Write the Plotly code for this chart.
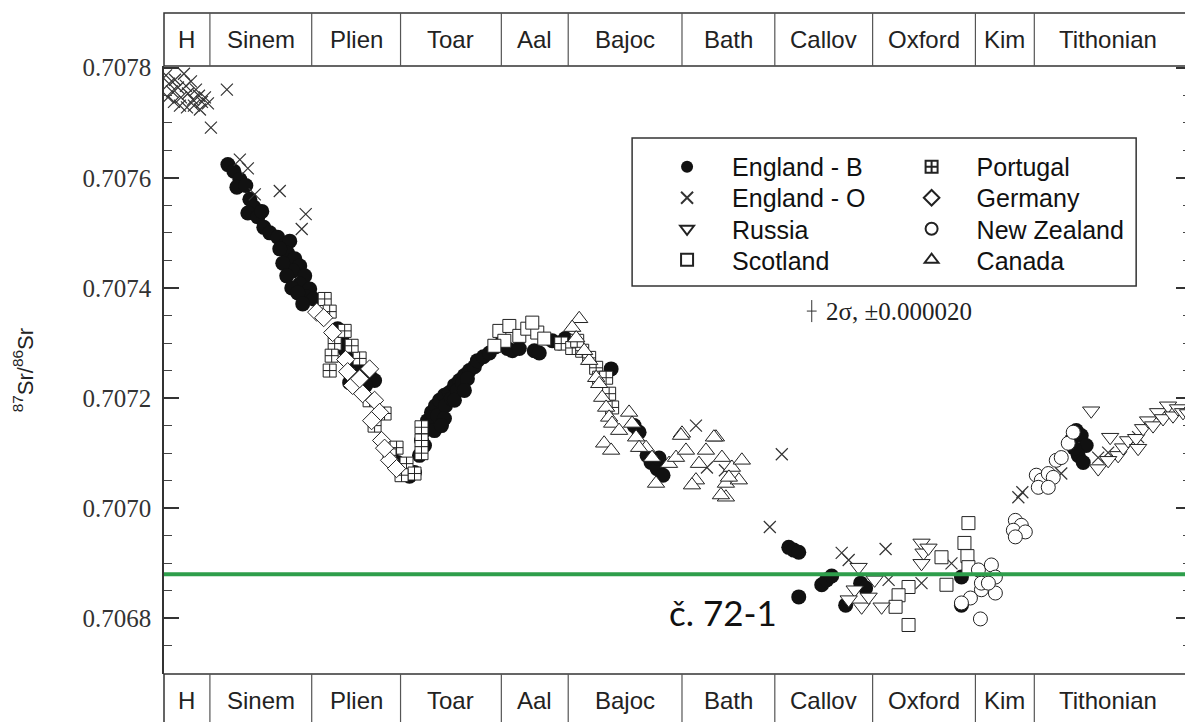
import plotly.graph_objects as go

SANS = "Liberation Sans, Arial, sans-serif"
SERIF = "Liberation Serif, Times New Roman, serif"

# ---- stage scale (pseudo-age, Ma; decreasing to the right) ----
stage_names = ["H", "Sinem", "Plien", "Toar", "Aal", "Bajoc", "Bath",
               "Callov", "Oxford", "Kim", "Tithonian"]
stage_bounds = [200.0, 197.7, 192.6, 188.15, 183.1, 179.75, 174.05,
                169.4, 164.5, 159.35, 156.4, 149.0]
x_range = [200.0, 148.55]
y_range = [0.706699, 0.707803]

# ---- data (age, 87Sr/86Sr) ----
engB_x = [196.80, 196.50, 196.20, 196.35, 195.90, 195.70, 195.50, 195.80, 195.30, 195.10,
          195.00, 194.70, 194.30, 193.95, 193.70, 193.80, 193.45, 193.20, 193.55, 192.95,
          193.20, 192.70, 192.90, 192.50, 191.30, 191.10, 190.90, 191.20, 190.45, 190.10,
          189.70, 190.30, 190.70, 189.45, 189.90,
          194.20, 194.05, 193.85, 193.60, 193.30, 193.05,
          188.55, 188.30, 188.00, 187.70, 187.45,
          187.20, 187.10, 186.95, 186.80, 186.60, 186.40, 186.20, 185.95, 185.70, 185.45,
          185.20, 184.95, 184.70, 184.45, 186.70, 186.30, 185.90, 185.60, 185.30, 185.05,
          184.80, 184.30, 184.00, 183.70, 183.40, 183.10, 182.80, 182.55, 182.20, 181.45,
          181.20, 180.55, 180.20, 179.90,
          186.95, 186.45, 185.95, 185.45, 184.95, 186.10,
          177.60, 176.45, 176.20, 175.80, 175.60, 175.30, 175.00, 175.20,
          168.70, 168.45, 168.20, 168.20, 167.05, 166.80, 166.55, 165.85, 165.10, 164.85,
          160.05, 160.05,
          154.55, 154.30, 154.05, 153.80, 154.20, 153.95, 154.40]
engB_y = [0.707624, 0.707612, 0.707597, 0.707583, 0.707586, 0.707561, 0.707547, 0.707536, 0.707529, 0.707539,
          0.707510, 0.707500, 0.707492, 0.707478, 0.707485, 0.707463, 0.707453, 0.707440, 0.707431, 0.707422,
          0.707407, 0.707398, 0.707384, 0.707380, 0.707326, 0.707308, 0.707286, 0.707295, 0.707268, 0.707253,
          0.707241, 0.707235, 0.707228, 0.707232, 0.707223,
          0.707471, 0.707445, 0.707422, 0.707400, 0.707391, 0.707371,
          0.707105, 0.707083, 0.707069, 0.707058, 0.707065,
          0.707096, 0.707123, 0.707141, 0.707159, 0.707174, 0.707186, 0.707196, 0.707205, 0.707210, 0.707223,
          0.707232, 0.707241, 0.707250, 0.707257, 0.707150, 0.707168, 0.707186, 0.707199, 0.707214, 0.707226,
          0.707235, 0.707268, 0.707275, 0.707282, 0.707293, 0.707300, 0.707290, 0.707286, 0.707290, 0.707286,
          0.707282, 0.707304, 0.707300, 0.707308,
          0.707114, 0.707141, 0.707163, 0.707196, 0.707214, 0.707150,
          0.707253, 0.707150, 0.707138, 0.707096, 0.707083, 0.707072, 0.707060, 0.707091,
          0.706929, 0.706924, 0.706920, 0.706839, 0.706861, 0.706870, 0.706877, 0.706824, 0.706864, 0.706855,
          0.706875, 0.706824,
          0.707123, 0.707141, 0.707132, 0.707114, 0.707096, 0.707083, 0.707109]

engO_x = [199.90, 199.75, 199.60, 199.45, 199.30, 199.15, 199.00, 198.90, 198.80, 198.65,
          198.55, 198.40, 198.25, 198.10, 197.95, 197.80, 199.80, 199.50, 199.20, 198.85,
          198.50, 198.20, 197.65, 196.85, 196.20, 195.80, 195.45, 194.20, 192.90, 193.10,
          173.35, 172.80, 171.90, 169.05, 169.65, 166.05, 165.70, 163.85, 163.70, 162.05,
          160.55, 157.20, 157.00, 155.05, 153.20, 152.70, 151.20]
engO_y = [0.707786, 0.707771, 0.707757, 0.707778, 0.707764, 0.707746, 0.707789, 0.707767, 0.707753, 0.707775,
          0.707742, 0.707760, 0.707749, 0.707738, 0.707746, 0.707735, 0.707746, 0.707738, 0.707731, 0.707728,
          0.707731, 0.707724, 0.707691, 0.707760, 0.707633, 0.707617, 0.707570, 0.707576, 0.707534, 0.707507,
          0.707150, 0.707074, 0.707069, 0.707098, 0.706966, 0.706919, 0.706906, 0.706926, 0.706870, 0.706864,
          0.706900, 0.707020, 0.707029, 0.707063, 0.707092, 0.707101, 0.707129]

port_x = [191.95, 191.70, 191.45, 191.60, 191.70, 190.20, 190.95, 190.60, 189.70, 188.95,
          188.35, 187.85, 187.45, 188.10, 188.70, 187.10, 187.10, 187.10, 189.45,
          180.10, 179.55, 179.05, 178.70, 178.35, 178.20, 177.85, 177.70, 177.55, 179.30]
port_y = [0.707380, 0.707357, 0.707299, 0.707277, 0.707250, 0.707272, 0.707322, 0.707295, 0.707196, 0.707172,
          0.707110, 0.707081, 0.707063, 0.707060, 0.707096, 0.707147, 0.707123, 0.707100, 0.707150,
          0.707299, 0.707291, 0.707286, 0.707273, 0.707255, 0.707237, 0.707237, 0.707208, 0.707183, 0.707304]

germ_x = [192.35, 192.00, 191.55, 190.90, 190.80, 189.70, 190.55, 190.05, 189.45, 189.20,
          189.10, 188.70, 188.35, 189.60, 188.95, 190.20]
germ_y = [0.707356, 0.707346, 0.707319, 0.707270, 0.707248, 0.707253, 0.707223, 0.707208, 0.707196, 0.707174,
          0.707123, 0.707087, 0.707072, 0.707159, 0.707109, 0.707235]

scot_x = [183.20, 182.70, 182.20, 181.80, 181.30, 180.95, 182.95, 183.45, 181.55,
          159.70, 159.90, 159.75, 161.05, 160.80, 162.70, 163.20, 163.35, 162.70, 159.70]
scot_y = [0.707322, 0.707331, 0.707313, 0.707326, 0.707319, 0.707308, 0.707304, 0.707295, 0.707337,
          0.706973, 0.706937, 0.706913, 0.706911, 0.706861, 0.706857, 0.706842, 0.706821, 0.706788, 0.706893]

russ_x = [165.20, 165.05, 164.70, 164.05, 165.40, 164.40, 162.05, 161.95, 162.05, 161.70, 165.70,
          153.55, 153.20, 152.60, 152.20, 151.95, 151.70, 151.30, 150.95, 150.70, 150.45,
          150.20, 149.95, 149.70, 149.45, 149.20, 148.95, 148.70, 151.20, 152.70]
russ_y = [0.706893, 0.706821, 0.706839, 0.706821, 0.706852, 0.706870, 0.706937, 0.706919, 0.706900, 0.706928, 0.706834,
          0.707177, 0.707072, 0.707129, 0.707096, 0.707110, 0.707123, 0.707127, 0.707145, 0.707159, 0.707150,
          0.707174, 0.707163, 0.707186, 0.707168, 0.707181, 0.707174, 0.707172, 0.707109, 0.707087]

cana_x = [179.20, 179.55, 179.35, 178.35, 178.20, 178.05, 177.85, 177.70, 177.55, 177.95,
          177.60, 177.20, 176.70, 176.55, 176.35, 175.85, 175.55, 175.35, 174.70, 174.35,
          174.05, 173.85, 173.35, 173.20, 172.85, 172.35, 172.05, 171.85, 171.55, 171.05,
          171.20, 171.85, 174.10, 172.45, 173.55, 172.10, 171.70, 178.70, 178.95, 176.20]
cana_y = [0.707344, 0.707328, 0.707309, 0.707237, 0.707226, 0.707201, 0.707183, 0.707165, 0.707154, 0.707118,
          0.707105, 0.707141, 0.707174, 0.707154, 0.707129, 0.707110, 0.707092, 0.707045, 0.707081, 0.707092,
          0.707136, 0.707105, 0.707051, 0.707081, 0.707105, 0.707129, 0.707092, 0.707045, 0.707074, 0.707087,
          0.707051, 0.707020, 0.707132, 0.707129, 0.707042, 0.707024, 0.707056, 0.707268, 0.707286, 0.707110]

nz_x = [159.20, 158.55, 158.35, 159.05, 158.35, 159.60, 160.05, 159.10, 159.05, 158.70,
        157.35, 157.05, 157.45, 156.85, 157.35, 156.30, 156.05, 155.70, 155.45, 155.30,
        155.05, 154.70, 154.45, 156.20, 155.70]
nz_y = [0.706888, 0.706897, 0.706875, 0.706852, 0.706846, 0.706837, 0.706828, 0.706799, 0.706864, 0.706864,
        0.706978, 0.706969, 0.706960, 0.706957, 0.706948, 0.707060, 0.707051, 0.707063, 0.707056, 0.707087,
        0.707092, 0.707118, 0.707138, 0.707038, 0.707038]

# reference level and error-bar key
ref_level = 0.70688
ref_label = "č. 72-1"
ref_label_pos = (174.8, 0.706812)
err_pos = (167.55, 0.707358)
err_value = 0.000020
err_text = "2σ, ±0.000020"
err_text_x = 166.95

fig = go.Figure()

LINE = "#222"
# name, x, y, symbol, size, fill, legend column, legend row
series = [
    ("England - B", engB_x, engB_y, "circle", 15, "#111", 0, 0),
    ("England - O", engO_x, engO_y, "x-thin", 12, None, 0, 1),
    ("Portugal", port_x, port_y, "square-cross", 13, "white", 1, 0),
    ("Germany", germ_x, germ_y, "diamond", 14, "white", 1, 1),
    ("Scotland", scot_x, scot_y, "square", 13, "white", 0, 3),
    ("New Zealand", nz_x, nz_y, "circle", 14, "white", 1, 2),
    ("Canada", cana_x, cana_y, "triangle-up", 15, "white", 1, 3),
    ("Russia", russ_x, russ_y, "triangle-down", 15, "white", 0, 2),
]
legend_cols = [0.4655, 0.7036]
legend_rows = [0.8339, 0.7829, 0.7319, 0.6809]
legend_layouts = {}
for k, (name, xs, ys, sym, size, fill, col, row) in enumerate(series):
    if fill is None:
        marker = dict(symbol=sym, size=size, color=LINE, line=dict(color="#333", width=1.2))
    elif fill == "#111":
        marker = dict(symbol=sym, size=size, color=fill, line=dict(color="#111", width=0))
    else:
        marker = dict(symbol=sym, size=size, color=fill, line=dict(color=LINE, width=1))
    leg = "legend" if k == 0 else "legend%d" % (k + 1)
    legend_layouts[leg] = dict(x=legend_cols[col], y=legend_rows[row], xanchor="left", yanchor="middle",
                               orientation="v", borderwidth=0, bgcolor="rgba(0,0,0,0)",
                               font=dict(family=SANS, size=25, color="#111"),
                               itemwidth=80, itemsizing="constant", tracegroupgap=0)
    fig.add_trace(go.Scatter(x=xs, y=ys, mode="markers", name=name, marker=marker,
                             legend=leg, hoverinfo="x+y+name"))

# error bar key
fig.add_trace(go.Scatter(
    x=[err_pos[0]], y=[err_pos[1]], mode="markers", showlegend=False,
    marker=dict(symbol="line-ew", size=7, color="#333", line=dict(color="#333", width=1)),
    error_y=dict(type="data", array=[err_value], thickness=1, width=0, color="#333"),
))

shapes = []
# reference line
shapes.append(dict(type="line", xref="paper", x0=0, x1=1, yref="y", y0=ref_level, y1=ref_level,
                   line=dict(color="#2e9e4b", width=4), layer="above"))

# legend frame
shapes.append(dict(type="rect", xref="paper", yref="paper", x0=0.4558, x1=0.9466, y0=0.6382, y1=0.8816,
                   line=dict(color="#333", width=1.5), fillcolor="white", layer="above"))

bar_h = 53 / 608.0
for (y0, y1) in [(1.0, 1.0 + bar_h), (0.0, -bar_h - 0.02)]:
    shapes.append(dict(type="rect", xref="paper", yref="paper", x0=0, x1=1.01, y0=y0, y1=y1,
                       line=dict(color="#333", width=1.5), fillcolor="rgba(0,0,0,0)"))
    for b in stage_bounds[1:-1]:
        shapes.append(dict(type="line", xref="x", yref="paper", x0=b, x1=b, y0=y0, y1=y1,
                           line=dict(color="#555", width=1.2)))

annotations = []
for i, nm in enumerate(stage_names):
    cx = (stage_bounds[i] + stage_bounds[i + 1]) / 2
    for yy in (1.0 + bar_h / 2, -0.043):
        annotations.append(dict(x=cx, xref="x", y=yy, yref="paper", text=nm, showarrow=False,
                                font=dict(family=SANS, size=24, color="#222"),
                                xanchor="center", yanchor="middle"))

annotations.append(dict(x=ref_label_pos[0], y=ref_label_pos[1], xref="x", yref="y", text=ref_label,
                        showarrow=False, xanchor="left", yanchor="middle",
                        font=dict(family="Lato, Open Sans, sans-serif", size=35, color="#111")))
annotations.append(dict(x=err_text_x, y=err_pos[1], xref="x", yref="y", text=err_text,
                        showarrow=False, xanchor="left", yanchor="middle",
                        font=dict(family=SERIF, size=25, color="#222")))
annotations.append(dict(x=-0.137, y=0.5, xref="paper", yref="paper",
                        text="<sup>87</sup>Sr/<sup>86</sup>Sr", textangle=-90, showarrow=False,
                        xanchor="center", yanchor="middle",
                        font=dict(family=SANS, size=22, color="#222")))

fig.update_layout(
    width=1185, height=714,
    margin=dict(l=156, r=0, t=58, b=48),
    paper_bgcolor="white", plot_bgcolor="white",
    showlegend=True,
    shapes=shapes, annotations=annotations,
    xaxis=dict(range=x_range, visible=False, showgrid=False, zeroline=False),
    yaxis=dict(range=y_range, tick0=0.7068, dtick=0.0002, tickformat=".4f",
               ticks="inside", ticklen=15, tickwidth=1.5, tickcolor="#333",
               showline=True, linecolor="#333", linewidth=1.5, mirror="ticks",
               showgrid=False, zeroline=False, ticklabelstandoff=6,
               tickfont=dict(family=SERIF, size=25, color="#333"),
               minor=dict(ticks="inside", ticklen=8, tickwidth=1.2, tickcolor="#444",
                          dtick=0.00005, tick0=0.7068, showgrid=False)),
)
fig.update_layout(**legend_layouts)

fig.write_html("out.html")
